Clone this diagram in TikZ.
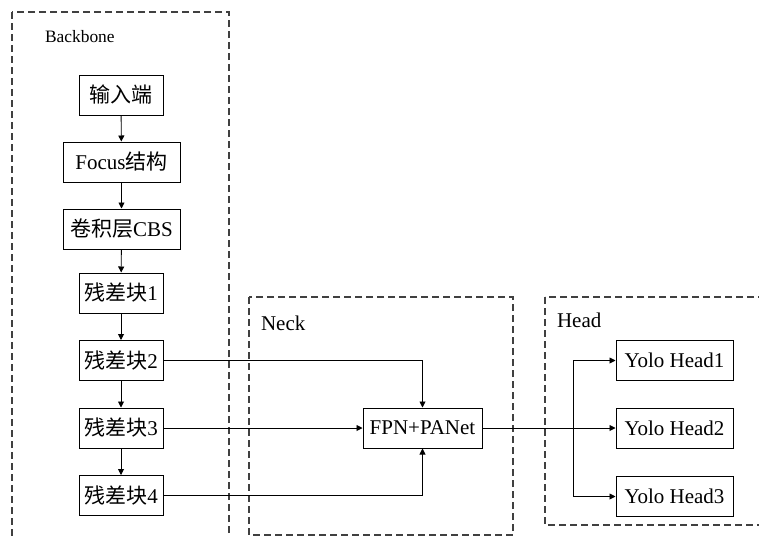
\documentclass[tikz,border=0pt]{standalone}
\usepackage{fontspec}
\setmainfont{Liberation Serif}
\newfontfamily\cjk{Noto Sans CJK SC}
\usetikzlibrary{arrows.meta,calc}
\newcommand{\zh}[1]{{\cjk #1}}

\begin{document}
\begin{tikzpicture}[x=0.5pt,y=-0.5pt,font=\fontsize{10.5}{12}\selectfont,>={Triangle[length=3pt,width=3pt]},
    block/.style={draw,line width=0.5pt,minimum height=20pt,inner sep=0pt,align=center},
    narrow/.style={block,minimum width=42pt},
    wide/.style={block,minimum width=58.5pt},
    group/.style={draw=black!75,line width=0.6pt,dash pattern=on 3.5pt off 2pt},
    link/.style={->,line width=0.45pt}]
  \useasboundingbox (0,0) rectangle (759,536);
  \clip (0,0) rectangle (759,536);

  % dashed groups
  \draw[group] (12,12) rectangle (229,560);
  \draw[group] (249,297) rectangle (513,535);
  \draw[group] (545,297) rectangle (790,525);
  \node[anchor=west,font=\fontsize{8.7}{10}\selectfont] (lbb) at (38,37) {Backbone};
  \node[anchor=west] (lneck) at (254,323) {Neck};
  \node[anchor=west] (lhead) at (550,320) {Head};

  % backbone
  \node[narrow] (inp) at (121,95) {\zh{输入端}};
  \node[wide] (focus) at (121.5,162) {Focus\zh{结构}};
  \node[wide] (cbs) at (121.5,229) {\zh{卷积层}CBS};
  \node[narrow] (res1) at (121,293) {\zh{残差块}1};
  \node[narrow] (res2) at (121,360.5) {\zh{残差块}2};
  \node[narrow] (res3) at (121,428) {\zh{残差块}3};
  \node[narrow] (res4) at (121,495.5) {\zh{残差块}4};
  \foreach \a/\b in {inp/focus,focus/cbs,cbs/res1,res1/res2,res2/res3,res3/res4}
    \draw[link] (\a) -- (\b);

  % neck
  \node[block,minimum width=59.5pt] (fpn) at (422.5,428) {FPN+PANet};
  \draw[link] (res2.east) -| (fpn.north);
  \draw[link] (res3.east) -- (fpn.west);
  \draw[link] (res4.east) -| (fpn.south);

  % head
  \node[wide] (yh1) at (674.5,360.5) {Yolo Head1};
  \node[wide] (yh2) at (674.5,428) {Yolo Head2};
  \node[wide] (yh3) at (674.5,496.5) {Yolo Head3};
  \coordinate (split) at (573,428);
  \draw[link] (fpn.east) -- (yh2.west);
  \draw[link] (split) |- (yh1.west);
  \draw[link] (split) |- (yh3.west);
\end{tikzpicture}
\end{document}
